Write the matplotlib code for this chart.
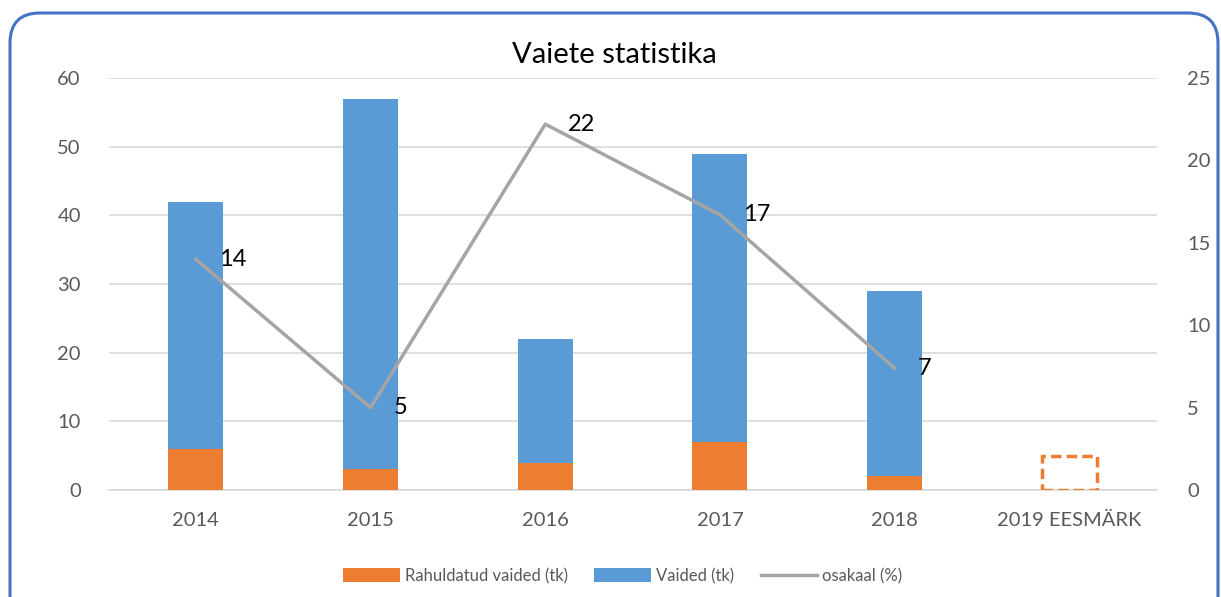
import matplotlib.pyplot as plt
import numpy as np
from matplotlib.patches import FancyBboxPatch
from matplotlib.transforms import IdentityTransform

plt.rcParams['font.family'] = ['Lato', 'DejaVu Sans']

# andmed
aastad = ['2014', '2015', '2016', '2017', '2018', '2019 EESMÄRK']
vaided = [42, 57, 22, 49, 29, np.nan]
rahuldatud = [6, 3, 4, 7, 2, np.nan]
eesmark = 5
osakaal = [14, 5, 22.2, 16.7, 7.4]
osakaal_sildid = ['14', '5', '22', '17', '7']

sinine = '#5B9BD5'
oranz = '#ED7D31'
hall = '#A5A5A5'
tekst = '#595959'

fig = plt.figure(figsize=(12.21, 5.97), dpi=100)
ax = fig.add_axes([108.6/1221, 1-490/597, 1048/1221, 412/597])
x = np.arange(len(aastad))
w = 0.315

ax.bar(x, vaided, width=w, color=sinine, label='Vaided (tk)', zorder=2)
ax.bar(x, rahuldatud, width=w, color=oranz, label='Rahuldatud vaided (tk)', zorder=3)
# 2019 eesmärk - katkendjoonega
ax.bar(x[-1], eesmark, width=w, fill=False, edgecolor=oranz, linestyle=(0, (3, 1.5)),
       linewidth=2.5, zorder=3)

ax.set_xlim(-0.5, 5.5)
ax.set_ylim(0, 60)
ax.set_yticks(range(0, 61, 10))
ax.set_xticks(x)
ax.set_xticklabels(aastad)
ax.grid(axis='y', color='#D9D9D9', linewidth=1.2, zorder=0)
ax.set_axisbelow(True)
for s in ax.spines.values():
    s.set_visible(False)
ax.spines['bottom'].set_visible(True)
ax.spines['bottom'].set_color('#D9D9D9')
ax.spines['bottom'].set_linewidth(1.2)
ax.tick_params(length=0, labelsize=14.5, colors=tekst)
ax.tick_params(axis='x', pad=16)
ax.tick_params(axis='y', pad=20)

ax2 = ax.twinx()
ax2.plot(x[:5], osakaal, color=hall, linewidth=2.5, label='osakaal (%)', zorder=4)
ax2.set_ylim(0, 25)
ax2.set_yticks(range(0, 26, 5))
for s in ax2.spines.values():
    s.set_visible(False)
ax2.tick_params(length=0, labelsize=14.5, colors=tekst, pad=22)
for xi, v, t in zip(x[:5], osakaal, osakaal_sildid):
    ax2.annotate(t, (xi, v), xytext=(23, 0), textcoords='offset pixels',
                 va='center', ha='left', fontsize=17, color='black')

fig.text(0.503, 1-55/597, 'Vaiete statistika', ha='center', va='center', fontsize=21, color='black')

h1, l1 = ax.get_legend_handles_labels()
h2, l2 = ax2.get_legend_handles_labels()
fig.legend([h1[1], h1[0], h2[0]], [l1[1], l1[0], l2[0]], loc='center', ncol=3,
           bbox_to_anchor=(0.51, 1-576/597), frameon=False, fontsize=12,
           labelcolor=tekst, handlelength=3.4, handleheight=0.9, columnspacing=1.6,
           handletextpad=0.3)

raam = FancyBboxPatch((10, -50), 1208, 597 - 13 + 50,
                      boxstyle='round,pad=0,rounding_size=30', transform=IdentityTransform(),
                      fill=False, edgecolor='#4472C4', linewidth=2.2)
fig.patches.append(raam)

fig.savefig('out.png', dpi=100)
